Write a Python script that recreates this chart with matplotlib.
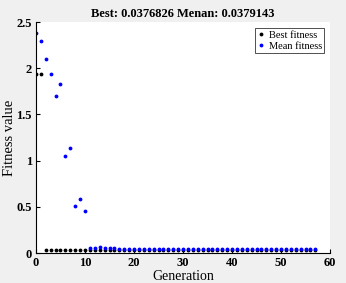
import matplotlib
matplotlib.use("Agg")
import matplotlib.pyplot as plt

# GA run: best and mean fitness per generation
generations = list(range(58))
best_fitness = [1.94, 1.94] + [0.0377] * 56
mean_fitness = [2.38, 2.30, 2.10, 1.94, 1.70, 1.83, 1.05, 1.14, 0.505, 0.58, 0.46,
                0.05, 0.055, 0.062, 0.058, 0.058, 0.056] + [0.038] * 41

plt.rcParams['font.family'] = ['Liberation Serif', 'DejaVu Serif']

fig = plt.figure(figsize=(3.46, 2.83), dpi=100, facecolor='#f0f0f0')
ax = fig.add_axes([0.104, 0.106, 0.85, 0.816])
ax.set_facecolor('white')

ax.plot(generations, best_fitness, '.', color='black', ms=3.5, label='Best fitness')
ax.plot(generations, mean_fitness, '.', color='blue', ms=3.5, label='Mean fitness')

ax.set_xlim(0, 60)
ax.set_ylim(0, 2.5)
ax.set_xticks([0, 10, 20, 30, 40, 50, 60])
ax.set_yticks([0, 0.5, 1, 1.5, 2, 2.5])
ax.set_yticklabels(['0', '0.5', '1', '1.5', '2', '2.5'])
ax.tick_params(direction='in', length=3, labelsize=9, width=0.8, pad=3)
for lab in ax.get_xticklabels() + ax.get_yticklabels():
    lab.set_fontweight('bold')
ax.spines['top'].set_visible(False)
ax.spines['right'].set_visible(False)

ax.set_xlabel('Generation', fontsize=10)
ax.xaxis.set_label_coords(0.5, -0.075)
ax.set_ylabel('Fitness value', fontsize=10.5)
ax.yaxis.set_label_coords(-0.068, 0.5)
ax.set_title('Best: 0.0376826 Menan: 0.0379143', fontsize=9, fontweight='bold', pad=4)

leg = ax.legend(loc='upper right', fontsize=7.5, frameon=True, fancybox=False,
                handlelength=0.8, handletextpad=0.3, borderpad=0.2,
                labelspacing=0.15, markerscale=1.0, borderaxespad=0.6)
leg.get_frame().set_edgecolor('black')
leg.get_frame().set_linewidth(0.6)

fig.savefig('out.png', dpi=100, facecolor=fig.get_facecolor())
